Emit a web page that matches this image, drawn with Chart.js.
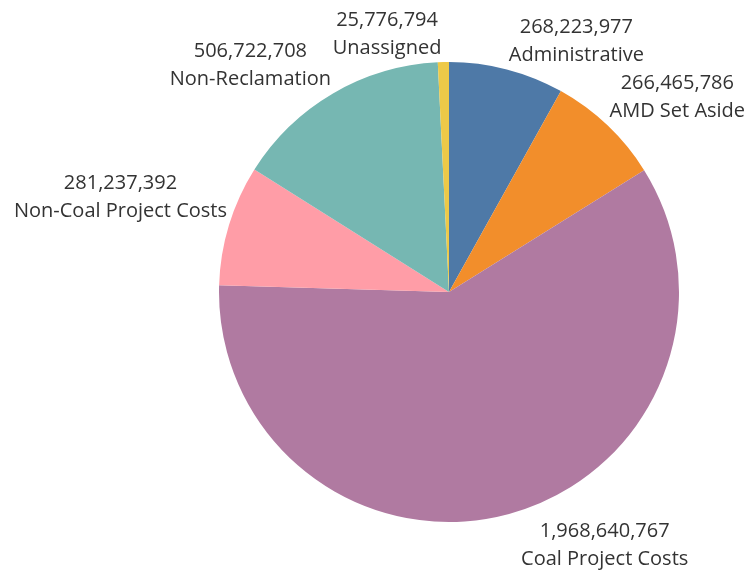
<!DOCTYPE html>
<html>
<head>
<meta charset="utf-8">
<script src="https://cdn.jsdelivr.net/npm/chart.js@4/dist/chart.umd.min.js"></script>
<style>
  html, body { margin: 0; padding: 0; background: #fff; }
  #wrap { width: 749px; height: 571px; position: relative; }
</style>
</head>
<body>
<div id="wrap"><canvas id="pie"></canvas></div>
<script>
var categories = ["Administrative", "AMD Set Aside", "Coal Project Costs", "Non-Coal Project Costs", "Non-Reclamation", "Unassigned"];
var amounts = [268223977, 266465786, 1968640767, 281237392, 506722708, 25776794];
var colors = ["#4e79a7", "#f28e2b", "#b07aa1", "#ff9da7", "#76b7b2", "#edc948"];

var label_font = '20px "Open Sans", "DejaVu Sans", sans-serif';

// draws the two line labels next to each slice, like tableau does
var outside_labels = {
  id: "outside_labels",
  afterDraw: function(chart) {
    var ctx = chart.ctx;
    var arcs = chart.getDatasetMeta(0).data;
    ctx.save();
    ctx.font = label_font;
    ctx.fillStyle = "#333333";
    ctx.textAlign = "center";
    ctx.textBaseline = "alphabetic";
    for (var i = 0; i < arcs.length; i++) {
      var a = arcs[i];
      var mid = (a.startAngle + a.endAngle) / 2;
      var x = a.x + Math.cos(mid) * a.outerRadius;
      var y = a.y + Math.sin(mid) * a.outerRadius;
      var line1 = amounts[i].toLocaleString("en-US");
      var line2 = categories[i];
      var w = Math.max(ctx.measureText(line1).width, ctx.measureText(line2).width);
      var cx = x >= a.x ? x + w / 2 + 2 : x - w / 2 - 2;
      if (y < a.y) {
        ctx.fillText(line2, cx, y - 8);
        ctx.fillText(line1, cx, y - 36);
      } else {
        cx += 10;
        ctx.fillText(line1, cx, y + 23);
        ctx.fillText(line2, cx, y + 51);
      }
    }
    ctx.restore();
  }
};

var ctx = document.getElementById("pie").getContext("2d");
var chart = new Chart(ctx, {
  type: "pie",
  data: {
    labels: categories,
    datasets: [{
      data: amounts,
      backgroundColor: colors,
      borderWidth: 0,
    }]
  },
  options: {
    responsive: true,
    maintainAspectRatio: false,
    animation: false,
    layout: {
      padding: { left: 219, right: 70, top: 62, bottom: 49 }
    },
    plugins: {
      legend: { display: false },
      tooltip: { enabled: false },
    },
  },
  plugins: [outside_labels],
});
</script>
</body>
</html>
